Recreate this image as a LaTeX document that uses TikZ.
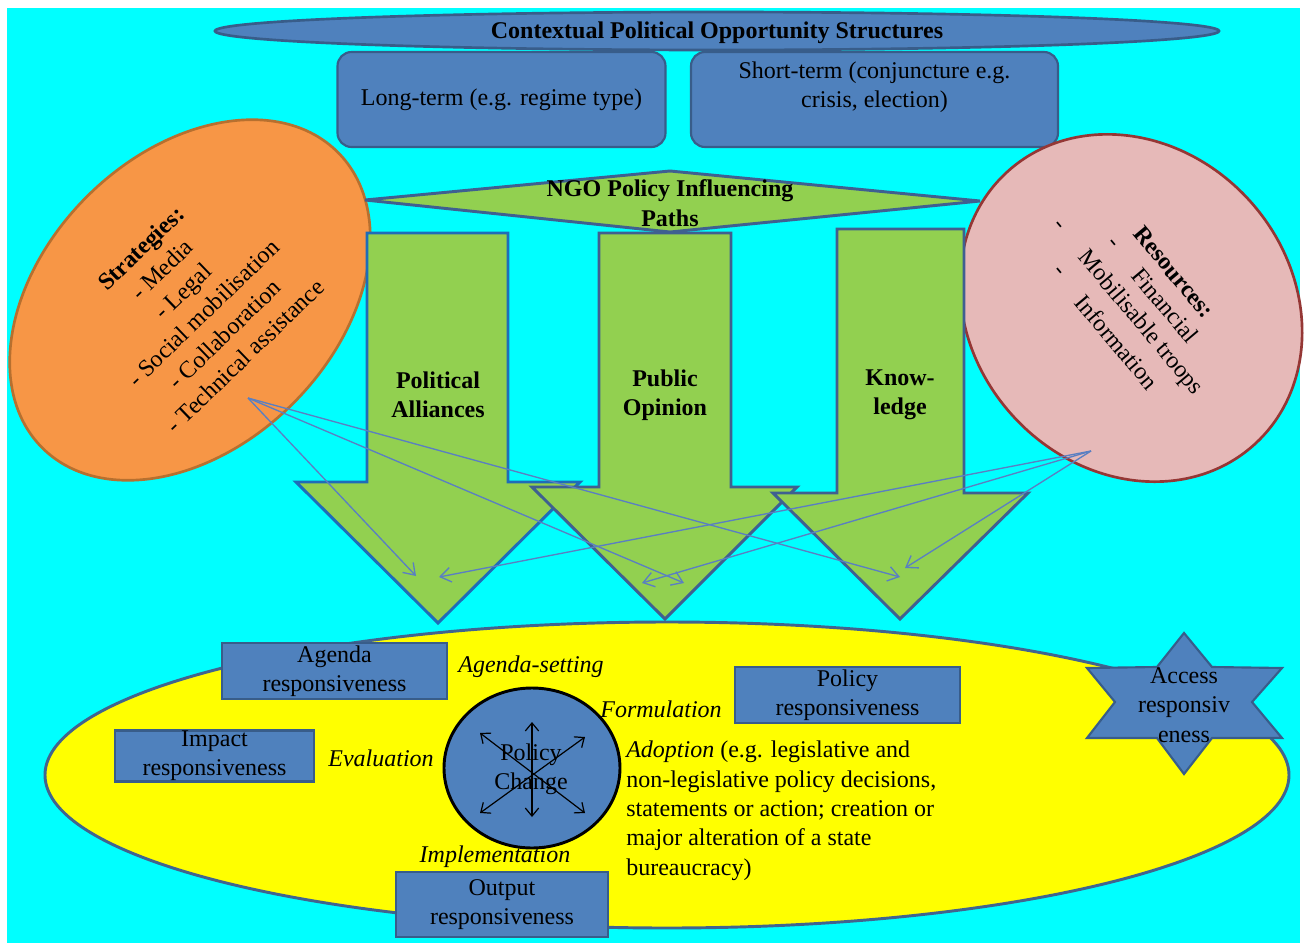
\documentclass[tikz,border=0pt]{standalone}
\usepackage{fontspec}
\setmainfont{Liberation Serif}
\usetikzlibrary{arrows.meta}

% one drawing unit = one pixel of the layout grid
\newdimen\pxu \pxu=0.75pt

\definecolor{bgcyan}{HTML}{00FFFF}
\definecolor{boxblue}{HTML}{4F81BD}
\definecolor{boxline}{HTML}{385D8A}
\definecolor{pathgreen}{HTML}{92D050}
\definecolor{pathline}{HTML}{3F6090}
\definecolor{firstline}{HTML}{1F6CB8}
\definecolor{stratfill}{HTML}{F79646}
\definecolor{stratline}{HTML}{B7702F}
\definecolor{resfill}{HTML}{E6B9B8}
\definecolor{resline}{HTML}{953735}
\definecolor{stageyellow}{HTML}{FFFF00}
\definecolor{stageline}{HTML}{41648F}
\definecolor{linkblue}{HTML}{5A7FC2}

\tikzset{
  plain/.style={font=\fontsize{18}{22}\selectfont, align=center, inner sep=0pt},
  heading/.style={font=\fontsize{18}{22}\selectfont\bfseries, align=center, inner sep=0pt},
  stage/.style={font=\fontsize{18}{22}\selectfont\itshape, inner sep=0pt},
  respbox/.style={draw=boxline, fill=boxblue, line width=1.6pt, inner sep=0pt,
    align=center, font=\fontsize{18}{22}\selectfont},
  pillbox/.style={draw=boxline, fill=boxblue, line width=1.6pt, inner sep=0pt,
    rounded corners=14\pxu, align=center, font=\fontsize{18}{22}\selectfont},
  pathshape/.style={fill=pathgreen, draw=pathline, line width=2.2pt, line join=miter},
  link/.style={draw=linkblue, line width=1pt, -{Straight Barb[length=8pt,width=11pt]}},
  turn/.style={draw=black, line width=0.9pt,
    {Straight Barb[length=6pt,width=10pt]}-{Straight Barb[length=6pt,width=10pt]}},
}

\begin{document}
\begin{tikzpicture}[x=0.75pt,y=-0.75pt]
\useasboundingbox (0,0) rectangle (1304,943);
\fill[white] (0,0) rectangle (1304,943);
\fill[bgcyan] (7,8) rectangle (1300,943);

% context of opportunity structures
\draw[fill=boxblue, draw=boxline, line width=2pt] (717,31) ellipse [x radius=502, y radius=19];
\node[heading] (context) at (717,33) {Contextual Political Opportunity Structures};
\node[pillbox, minimum width=328\pxu, minimum height=95\pxu] (longterm) at (501.5,99.5) {Long-term (e.g. regime type)};
\node[pillbox, minimum width=367\pxu, minimum height=95\pxu] (shortbox) at (874.5,99.5) {};
\node[plain] (shortterm) at (874.5,87) {Short-term (conjuncture e.g.\\crisis, election)};

% strategies and resources
\draw[fill=stratfill, draw=stratline, line width=2pt, rotate around={45:(190,300)}]
  (190,300) ellipse [x radius=209, y radius=146];
\node[plain, rotate=44, font=\fontsize{18}{22.5}\selectfont] (strategies) at (193,302)
  {\textbf{Strategies:}\\- Media\\- Legal\\- Social mobilisation\\- Collaboration\\- Technical assistance};

\draw[fill=resfill, draw=resline, line width=2pt, rotate around={-48:(1131,308)}]
  (1131,308) ellipse [x radius=184, y radius=160];
\node[heading, rotate=-50] (resources) at (1174,272) {Resources:};
\node[plain, rotate=-50] (financial) at (1165,305) {Financial};
\node[plain, rotate=-50] (troops) at (1140,323) {Mobilisable troops};
\node[plain, rotate=-50] (information) at (1117,342) {Information};
\node[plain, rotate=-50] (dasha) at (1058,226) {-};
\node[plain, rotate=-50] (dashb) at (1112,244) {-};
\node[plain, rotate=-50] (dashc) at (1058,272) {-};

% influencing paths
\draw[pathshape] (365,200) -- (670,171) -- (980,201) -- (670,232) -- cycle;
\node[heading] (ngo) at (670,203) {NGO Policy Influencing\\Paths};

\draw[pathshape, draw=firstline] (367,233) -- (508,233) -- (508,482) -- (580,482) -- (438,623)
  -- (296,482) -- (367,482) -- cycle;
\draw[pathshape] (599,233) -- (731,233) -- (731,487) -- (797,487) -- (665,619)
  -- (532,487) -- (599,487) -- cycle;
\draw[pathshape] (837,229) -- (964,229) -- (964,493) -- (1028,493) -- (900,619)
  -- (773,493) -- (837,493) -- cycle;
\node[heading] (alliances) at (438,395) {Political\\Alliances};
\node[heading] (opinion) at (665,395) {Public\\Opinion};
\node[heading] (knowledge) at (900,395) {Know-\\ledge};

% policy cycle
\draw[fill=stageyellow, draw=stageline, line width=2.2pt] (667,775) ellipse [x radius=622, y radius=153];

\node[respbox, minimum width=225\pxu, minimum height=56\pxu] (agenda) at (334.5,671) {Agenda\\responsiveness};
\node[respbox, minimum width=199\pxu, minimum height=51\pxu] (impact) at (214.5,756) {Impact\\responsiveness};
\node[respbox, minimum width=212\pxu, minimum height=65\pxu] (output) at (502,904.5) {Output\\responsiveness};
\node[respbox, minimum width=225\pxu, minimum height=56\pxu] (policy) at (847.5,695) {Policy\\responsiveness};

\draw[fill=boxblue, draw=black, line width=2.2pt] (532,768) ellipse [x radius=88, y radius=80];
\node[plain] (change) at (531,769) {Policy\\Change};
\coordinate (vtop) at (532,722);
\coordinate (vbot) at (532,817);
\coordinate (dul) at (480,733);
\coordinate (dlr) at (585,813);
\coordinate (dur) at (585,737);
\coordinate (dll) at (480,813);
\draw[turn] (vtop) -- (vbot);
\draw[turn] (dul) -- (dlr);
\draw[turn] (dur) -- (dll);

\node[stage] (agendaset) at (531,667) {Agenda-setting};
\node[stage] (formulation) at (661,709) {Formulation};
\node[stage] (evaluation) at (381,758) {Evaluation};
\node[stage] (implementation) at (495,857) {Implementation};
\node[plain, align=left, anchor=north west, font=\fontsize{18}{22}\selectfont] (adoption) at (626,741)
  {\textit{Adoption} (e.g. legislative and\\non-legislative policy decisions,\\statements or action; creation or\\major alteration of a state\\bureaucracy)};

% access responsiveness star
\draw[fill=boxblue, draw=boxline, line width=1.6pt, line join=miter]
  (1184,633) -- (1212,667) -- (1282,668) -- (1252,702) -- (1282,738) -- (1212,738)
  -- (1184,774) -- (1157,738) -- (1087,738) -- (1115,702) -- (1087,668) -- (1157,667) -- cycle;
\node[plain, font=\fontsize{18}{22.2}\selectfont] (access) at (1184,705) {Access\\responsiv\\eness};

% links from strategies and resources to the paths
\coordinate (stratsrc) at (248,398);
\coordinate (ressrc) at (1091,451);
\coordinate (sa) at (416,576);
\coordinate (sb) at (684,583);
\coordinate (sc) at (900,577);
\coordinate (ra) at (439,577);
\coordinate (rb) at (642,583);
\coordinate (rc) at (905,568);
\draw[link] (stratsrc) -- (sa);
\draw[link] (stratsrc) -- (sb);
\draw[link] (stratsrc) -- (sc);
\draw[link] (ressrc) -- (ra);
\draw[link] (ressrc) -- (rb);
\draw[link] (ressrc) -- (rc);
\end{tikzpicture}
\end{document}
